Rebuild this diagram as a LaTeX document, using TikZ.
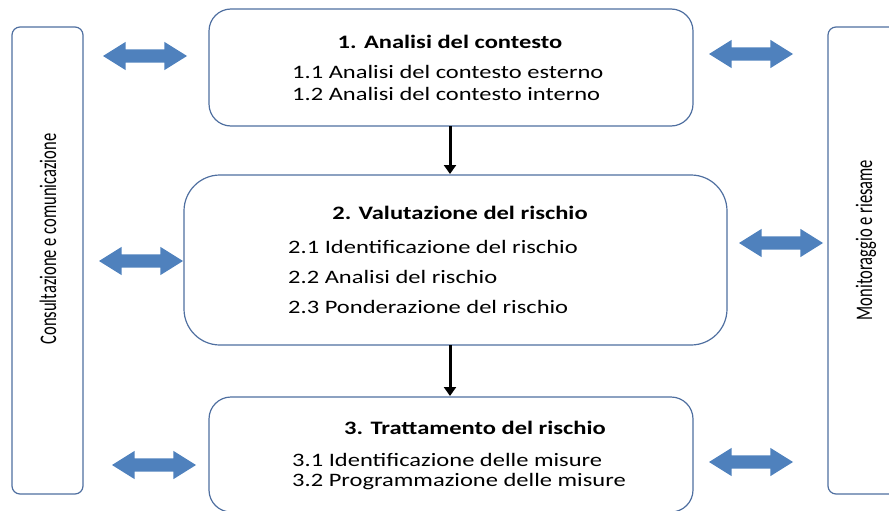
\documentclass[tikz,border=0pt]{standalone}
\usepackage{fontspec}
\setmainfont{Carlito}
\usetikzlibrary{shapes.arrows,arrows.meta}
\definecolor{frame}{HTML}{4F6FA0}
\definecolor{arrblue}{HTML}{4F81BD}
\newcommand{\wide}[1]{\scalebox{1.29}[1]{#1}}
\newcommand{\narrow}[1]{\scalebox{0.87}[1.25]{#1}}
\tikzset{
  panel/.style={draw=frame, line width=1.2pt, rounded corners=8pt},
  stepbox/.style={draw=frame, line width=1.2pt, rounded corners=22pt},
  dbl/.style={double arrow, fill=arrblue, draw=none, minimum height=84pt, inner xsep=0pt, inner ysep=6.5pt, double arrow head extend=7.5pt, anchor=center, double arrow tip angle=64},
  down/.style={-{Triangle[length=9pt,width=12pt]}, line width=3pt, black},
  txt/.style={font=\fontsize{19}{21}\selectfont, anchor=west, inner sep=0pt},
  ttl/.style={font=\fontsize{19}{21}\selectfont\bfseries, inner sep=0pt},
  side/.style={font=\fontsize{19}{21}\selectfont, inner sep=0pt, rotate=90}
}
\begin{document}
\begin{tikzpicture}[x=1pt,y=-1pt]
\useasboundingbox (0,0) rectangle (889,511);
% side panels
\draw[panel] (12,27) rectangle (83,494);
\draw[panel] (828,27) rectangle (905,494);
\node[side] (lbl) at (48,239) {\narrow{Consultazione e comunicazione}};
\node[side] (rbl) at (866,240) {\narrow{Monitoraggio e riesame}};
% main boxes
\draw[stepbox] (209,9) rectangle (693,126);
\draw[stepbox, rounded corners=36pt] (184,175) rectangle (727,345);
\draw[stepbox] (209,397) rectangle (693,512);
\coordinate (b1s) at (450,126);
\coordinate (b2n) at (450,174);
\coordinate (b2s) at (450,345);
\coordinate (b3n) at (450,396);
\draw[down] (b1s) -- (b2n);
\draw[down] (b2s) -- (b3n);
% texts
\node[ttl] (t1) at (450,42) {\wide{1. Analisi del contesto}};
\node[txt] (t11) at (292,72) {\wide{1.1 Analisi del contesto esterno}};
\node[txt] (t12) at (292,94) {\wide{1.2 Analisi del contesto interno}};
\node[ttl] (t2) at (460,213) {\wide{2. Valutazione del rischio}};
\node[txt] (t21) at (288,247) {\wide{2.1 Identificazione del rischio}};
\node[txt] (t22) at (288,277) {\wide{2.2 Analisi del rischio}};
\node[txt] (t23) at (288,307) {\wide{2.3 Ponderazione del rischio}};
\node[ttl] (t3) at (475,428) {\wide{3. Trattamento del rischio}};
\node[txt] (t31) at (292,460) {\wide{3.1 Identificazione delle misure}};
\node[txt] (t32) at (292,482) {\wide{3.2 Programmazione delle misure}};
% double arrows
\node[dbl] (a1) at (145,56) {};
\node[dbl] (a2) at (751,54) {};
\node[dbl] (a3) at (141,261) {};
\node[dbl] (a4) at (781,243) {};
\node[dbl] (a5) at (154,465) {};
\node[dbl] (a6) at (751,462) {};
\end{tikzpicture}
\end{document}
